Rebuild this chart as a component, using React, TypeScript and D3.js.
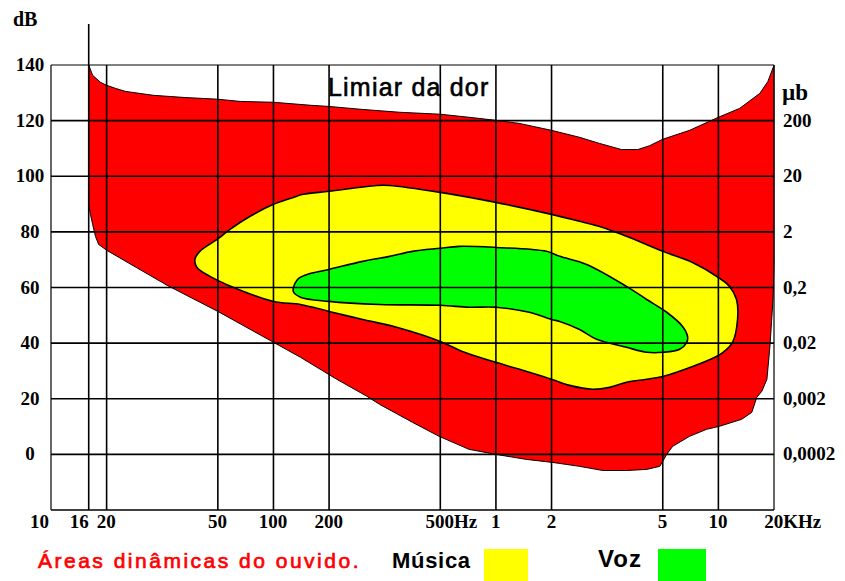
import React from "react";
import * as d3 from "d3";

// ---- Axis definitions ----
const freqBreaks = [10, 20, 50, 100, 200, 500, 1000, 2000, 5000, 10000, 20000];
// the chart's own frequency layout: steps in "octave cells"
const freqSteps = [0, 1, 3, 4, 5, 7, 8, 9, 11, 12, 13];
const freqTicks = [10, 16, 20, 50, 100, 200, 500, 1000, 2000, 5000, 10000, 20000];
const freqLabels = ["10", "16", "20", "50", "100", "200", "500Hz", "1", "2", "5", "10", "20KHz"];
const dbTicks = [0, 20, 40, 60, 80, 100, 120, 140];
const pressureDb = [0, 20, 40, 60, 80, 100, 120];
const pressureLabels = ["0,0002", "0,002", "0,02", "0,2", "2", "20", "200"];

// ---- Data: [frequency Hz, level dB] ----
const painThreshold: [number, number][] = [
  [16, 140], [16.8, 136.3], [18.5, 133.8], [20, 132.7], [21.5, 131.6], [23.4, 130.5],
  [29.4, 129.1], [38.2, 128.3], [50, 127.7], [66, 126.9], [100, 126.6], [160, 125.5],
  [200, 125.1], [258, 124.1], [358, 123.0], [500, 122.3], [716, 121.2], [1000, 120.1],
  [1336, 119.0], [2000, 116.5], [2520, 114.0], [2970, 111.8], [3560, 109.6], [4070, 109.6],
  [4490, 111.0], [5000, 113.3], [6980, 116.5], [10000, 121.2], [13030, 124.4],
  [16770, 129.8], [18540, 134.1], [20000, 139.9],
];

const hearingThreshold: [number, number][] = [
  [16, 89.9], [16.35, 86.3], [16.8, 82.7], [17.4, 78.4], [18.1, 75.5], [20, 73.4],
  [32.9, 60.8], [50, 51.4], [100, 40.3], [140, 34.9], [213, 27.0], [273, 20.9],
  [303, 18.0], [398, 11.5], [495, 6.5], [716, 1.8], [1000, 0], [1460, -1.8],
  [2020, -2.9], [2520, -4.3], [3050, -5.8], [3710, -5.8], [4380, -5.4], [4880, -4.3],
  [5000, -2.5], [5250, 0], [5660, 2.9], [6980, 6.5], [8620, 9.0], [10130, 10.1],
  [13360, 12.6], [15160, 15.1], [16140, 20.5], [17190, 22.7], [18310, 27.0],
  [19010, 38.8], [19750, 55.7], [20000, 68.3],
];

const musicArea: [number, number][] = [
  [41.4, 70.1], [43.1, 73.0], [49.7, 77.3], [58.2, 80.9], [74.8, 85.6], [100, 89.9],
  [128, 92.4], [145, 93.5], [200, 94.6], [296, 96.7], [329, 96.7], [500, 94.2],
  [1000, 90.6], [2000, 86.3], [2520, 83.8], [3050, 81.6], [3710, 78.4], [5000, 73.0],
  [7250, 69.0], [10000, 63.6], [11490, 60.4], [12540, 55.7], [12700, 48.5],
  [11930, 40.3], [10600, 36.7], [9760, 35.2], [7250, 31.6], [5000, 28.0], [4380, 27.0],
  [3710, 25.9], [3230, 24.1], [2810, 23.4], [2320, 24.8], [2000, 27.0], [1516, 29.5],
  [1000, 33.1], [657, 37.0], [500, 40.6], [349, 45.7], [264, 48.5], [200, 51.4],
  [140, 53.9], [100, 55.0], [60.4, 60.1], [46.9, 64.0], [42.1, 67.2],
];

const voiceArea: [number, number][] = [
  [128, 58.6], [135, 62.9], [152, 64.7], [200, 66.5], [264, 69.4], [329, 71.2],
  [398, 73.0], [500, 74.1], [633, 74.8], [1000, 74.4], [1878, 73.0], [2140, 71.2],
  [2670, 68.3], [3710, 60.4], [4380, 55.7], [5250, 51.1], [6400, 46.0], [6810, 42.4],
  [6740, 40.3], [6170, 37.8], [5000, 36.7], [4380, 36.7], [3710, 38.5], [2900, 41.4],
  [2520, 44.9], [2140, 47.8], [2000, 48.5], [1516, 51.1], [1000, 52.9], [716, 52.9],
  [500, 53.6], [303, 53.9], [200, 55.0], [140, 56.5],
];

const W = 845;
const H = 581;
const left = 51;
const right = 774;
const top = 65;
const bottom = 510;

export default function App() {
  const cell = (right - left) / 13;
  const x = d3
    .scaleLog()
    .domain(freqBreaks)
    .range(freqSteps.map((s) => left + s * cell));
  const y = d3.scaleLinear().domain([-20, 140]).range([bottom, top]);

  const linear = d3
    .line<[number, number]>()
    .x((d) => x(d[0]))
    .y((d) => y(d[1]))
    .curve(d3.curveLinear);
  const smooth = d3
    .line<[number, number]>()
    .x((d) => x(d[0]))
    .y((d) => y(d[1]))
    .curve(d3.curveCatmullRomClosed.alpha(0.5));

  const redPoly = [...painThreshold, ...hearingThreshold.slice().reverse()];
  const redPath = linear(redPoly) + "Z";

  const serif = "'Liberation Serif', 'Times New Roman', serif";
  const sans = "'Liberation Sans', Arial, sans-serif";

  return (
    <svg
      width={W}
      height={H}
      style={{ position: "absolute", left: 0, top: 0, background: "#fff" }}
    >
      <rect x={0} y={0} width={W} height={H} fill="#fff" />
      {/* areas */}
      <path d={redPath} fill="#ff0000" stroke="#000" strokeWidth={1} />
      <path d={smooth(musicArea) || ""} fill="#ffff00" stroke="#000" strokeWidth={1.6} />
      <path d={smooth(voiceArea) || ""} fill="#00ff00" stroke="#000" strokeWidth={1.6} />

      {/* horizontal grid */}
      {dbTicks.map((v) => (
        <line
          key={"h" + v}
          x1={left}
          x2={right}
          y1={y(v)}
          y2={y(v)}
          stroke="#000"
          strokeWidth={v === 140 ? 1.2 : 1.6}
        />
      ))}
      {/* vertical grid */}
      {freqTicks.map((f) => (
        <line
          key={"v" + f}
          x1={x(f)}
          x2={x(f)}
          y1={f === 16 ? 24 : top}
          y2={bottom}
          stroke="#000"
          strokeWidth={f === 10 || f === 20000 ? 1.2 : 1.6}
        />
      ))}
      <line x1={left} x2={right} y1={bottom} y2={bottom} stroke="#000" strokeWidth={1.6} />

      {/* left axis labels */}
      <text x={13} y={26} fontFamily={serif} fontWeight="bold" fontSize={20}>
        dB
      </text>
      {dbTicks.map((v) => (
        <text
          key={"yl" + v}
          x={30}
          y={y(v) + 6}
          textAnchor="middle"
          fontFamily={serif}
          fontWeight="bold"
          fontSize={19}
        >
          {v}
        </text>
      ))}

      {/* right axis labels */}
      <text x={782} y={100} fontFamily={serif} fontWeight="bold" fontSize={23}>
        µb
      </text>
      {pressureDb.map((v, i) => (
        <text
          key={"yr" + v}
          x={783}
          y={y(v) + 6}
          fontFamily={serif}
          fontWeight="bold"
          fontSize={19}
        >
          {pressureLabels[i]}
        </text>
      ))}

      {/* frequency labels */}
      {freqTicks.map((f, i) => {
        const label = freqLabels[i];
        const num = (label.match(/^[0-9]+/) || [label])[0];
        const xv = x(f);
        if (f < 20) {
          return (
            <text
              key={"xl" + f}
              x={f === 10 ? xv - 2 : xv}
              y={528}
              textAnchor="end"
              fontFamily={serif}
              fontWeight="bold"
              fontSize={19}
            >
              {label}
            </text>
          );
        }
        return (
          <text
            key={"xl" + f}
            x={xv - num.length * 4.9}
            y={528}
            fontFamily={serif}
            fontWeight="bold"
            fontSize={19}
          >
            {label}
          </text>
        );
      })}

      {/* annotation */}
      <text
        x={328}
        y={96}
        fontFamily={sans}
        fontSize={25}
        letterSpacing={1.2}
        fill="#000"
        stroke="#000"
        strokeWidth={0.6}
      >
        Limiar da dor
      </text>

      {/* legend */}
      <text
        x={38}
        y={568}
        fontFamily={sans}
        fontSize={21}
        letterSpacing={2.5}
        fill="#ff0000"
        stroke="#ff0000"
        strokeWidth={0.7}
      >
        Áreas dinâmicas do ouvido.
      </text>
      <text x={392} y={568} fontFamily={sans} fontWeight="bold" fontSize={22} letterSpacing={0.7} fill="#000">
        Música
      </text>
      <rect x={484} y={549} width={44} height={32} fill="#ffff00" />
      <text x={598} y={567} fontFamily={sans} fontWeight="bold" fontSize={24} letterSpacing={1} fill="#000">
        Voz
      </text>
      <rect x={658} y={549} width={48} height={32} fill="#00ff00" />
    </svg>
  );
}
